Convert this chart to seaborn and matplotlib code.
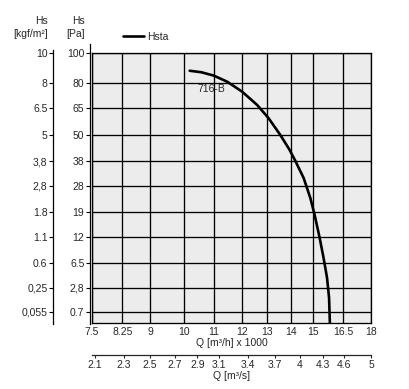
import numpy as np
import pandas as pd
import matplotlib
matplotlib.use("Agg")
import matplotlib.pyplot as plt
import seaborn as sns

# fan curve 716-B
q_flow = [10.19, 10.57, 10.99, 11.46, 12.01, 12.59, 13.05, 13.54, 13.94, 14.17,
          14.57, 14.88, 15.08, 15.32, 15.51, 15.68, 15.78, 15.82]
hs_pa = [87.7, 86.7, 84.5, 80.6, 74.4, 66.5, 59.1, 50.3, 43.1, 38.6,
         31.0, 23.6, 18.2, 11.9, 7.5, 4.13, 1.76, 0.2]

q_ticks = [7.5, 8.25, 9, 10, 11, 12, 13, 14, 15, 16.5, 18]
q_labels = ["7.5", "8.25", "9", "10", "11", "12", "13", "14", "15", "16.5", "18"]
qs_ticks = [2.1, 2.3, 2.5, 2.7, 2.9, 3.1, 3.4, 3.7, 4, 4.3, 4.6, 5]
qs_labels = ["2.1", "2.3", "2.5", "2.7", "2.9", "3.1", "3.4", "3.7", "4", "4.3", "4.6", "5"]
pa_ticks = [100, 80, 65, 50, 38, 28, 19, 12, 6.5, 2.8, 0.7]
pa_labels = ["100", "80", "65", "50", "38", "28", "19", "12", "6.5", "2,8", "0.7"]
kgf_labels = ["10", "8", "6.5", "5", "3,8", "2,8", "1.8", "1.1", "0.6", "0,25", "0,055"]

df = pd.DataFrame({"Q": q_flow, "Hs": hs_pa})

sns.set_style("white")
plt.rcParams["font.family"] = ["Liberation Sans Narrow", "Liberation Sans", "DejaVu Sans"]
fs = 7.5

fig = plt.figure(figsize=(4.09, 3.89), dpi=100)
ax = fig.add_axes([92 / 409, 1 - 322.5 / 389, (371 - 92) / 409, (322.5 - 52.8) / 389])
ax.set_facecolor("#ebeceb")

sqrt_fn = (lambda v: np.sqrt(np.clip(v, 0, None)), lambda v: np.square(v))
ax.set_xscale("log")
ax.set_yscale("function", functions=sqrt_fn)
ax.set_xlim(7.5, 18)
ax.set_ylim(0.2, 100)

sns.lineplot(data=df, x="Q", y="Hs", ax=ax, color="black", lw=1.9,
             estimator=None, sort=False, label="Hsta", legend=False)

ax.set_xticks(q_ticks)
ax.set_xticklabels(q_labels, fontsize=fs)
ax.xaxis.set_minor_locator(matplotlib.ticker.NullLocator())
ax.set_yticks(pa_ticks)
ax.set_yticklabels([])
ax.yaxis.set_minor_locator(matplotlib.ticker.NullLocator())
ax.tick_params(axis="both", length=0, pad=3)
ax.tick_params(axis="y", pad=0)
ax.grid(True, color="black", lw=0.95)
for s in ax.spines.values():
    s.set_color("black")
    s.set_linewidth(0.95)
ax.set_xlabel("Q [m³/h] x 1000", fontsize=fs, labelpad=1)
ax.set_ylabel("")

ax.text(10.44, 75.7, "716-B", fontsize=fs, va="center", ha="left")

# left axes: Pa and kgf/m2
def side_axis(offset_px, labels, top):
    t = ax.twinx()
    t.set_yscale("function", functions=sqrt_fn)
    t.set_ylim(0.2, 100)
    t.yaxis.tick_left()
    for name in ["top", "right", "bottom"]:
        t.spines[name].set_visible(False)
    t.spines["left"].set_position(("outward", offset_px * 0.72))
    t.spines["left"].set_bounds(0.146, top)
    t.spines["left"].set_linewidth(0.9)
    t.spines["left"].set_color("black")
    t.set_yticks(pa_ticks)
    t.set_yticklabels(labels, fontsize=fs)
    t.yaxis.set_minor_locator(matplotlib.ticker.NullLocator())
    t.tick_params(axis="y", left=True, right=False, length=3, width=0.8, pad=1, color="black")
    return t

side_axis(2, pa_labels, 106)
side_axis(39, kgf_labels, 102)

sec = ax.secondary_xaxis(-(355 - 322.5) / 270, functions=(lambda q: q / 3.6, lambda s: s * 3.6))
sec.set_xticks(qs_ticks)
sec.set_xticklabels(qs_labels, fontsize=fs)
sec.xaxis.set_minor_locator(matplotlib.ticker.NullLocator())
sec.tick_params(axis="x", length=2, width=0.8, pad=1.5)
sec.spines["bottom"].set_linewidth(0.9)
sec.set_xlabel("Q [m³/s]", fontsize=fs, labelpad=1)

fig.text(48 / 409, 1 - 21 / 389, "Hs", fontsize=fs, ha="right", va="center")
fig.text(48 / 409, 1 - 34 / 389, "[kgf/m²]", fontsize=fs, ha="right", va="center")
fig.text(85 / 409, 1 - 21 / 389, "Hs", fontsize=fs, ha="right", va="center")
fig.text(85 / 409, 1 - 34 / 389, "[Pa]", fontsize=fs, ha="right", va="center")

handles, lbls = ax.get_lines()[:1], ["Hsta"]
fig.legend(handles, lbls, loc="center left", bbox_to_anchor=(123 / 409, 1 - 37 / 389),
           frameon=False, fontsize=fs, handlelength=2.0, handletextpad=0.3,
           borderpad=0, borderaxespad=0)

fig.savefig("out.png", dpi=100)
